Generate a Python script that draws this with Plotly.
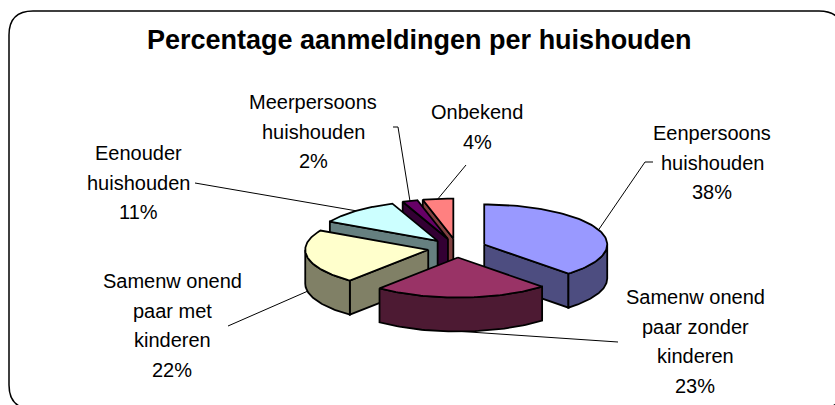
import numpy as np
import plotly.graph_objects as go

# ---------------- data ----------------
categories = ["Eenpersoons huishouden", "Samenwonend paar zonder kinderen",
              "Samenwonend paar met kinderen", "Eenouder huishouden",
              "Meerpersoons huishouden", "Onbekend"]
values = [38, 23, 22, 11, 2, 4]
label_lines = [["Eenpersoons", "huishouden"],
               ["Samenw onend", "paar zonder", "kinderen"],
               ["Samenw onend", "paar met", "kinderen"],
               ["Eenouder", "huishouden"],
               ["Meerpersoons", "huishouden"],
               ["Onbekend"]]
top_colors = ["#9999FF", "#993366", "#FFFFCC", "#CCFFFF", "#660066", "#FF8080"]
side_colors = ["#4D4D80", "#4D1A33", "#808066", "#668080", "#330033", "#804040"]
title_text = "Percentage aanmeldingen per huishouden"

# ---------------- layout constants (pixels) ----------------
W, H = 835, 405
CX, CY = 457, 248          # pie centre
RX, RY = 123, 40           # ellipse radii of the top face
DEPTH = 34                 # thickness
PULL = 0.238               # explosion fraction
LINE_H = 29.7
LABEL_POS = [(712, 133), (695, 297), (172, 281), (138, 153), (313, 102), (477, 112)]
LEADER_END = [[(645, 162), (653, 162)], [(618, 342)], [(228, 326)], [(195, 183)],
              [(398, 127), (393, 127)], [(466, 165)]]
OUTLINE = dict(color="black", width=1.8)

total = float(sum(values))
cum = np.concatenate([[0], np.cumsum(values)]) / total
theta_b = 90 - cum[:-1] * 360   # start (larger angle)
theta_a = 90 - cum[1:] * 360    # end (smaller angle)
mids = (theta_a + theta_b) / 2


def pt(sx, sy, deg, dz=0.0):
    r = np.radians(deg)
    return sx + RX * np.cos(r), sy - RY * np.sin(r) + dz


fig = go.Figure()


def poly(xs, ys, color):
    fig.add_trace(go.Scatter(x=list(xs), y=list(ys), mode="lines", fill="toself",
                             fillcolor=color, line=OUTLINE, hoverinfo="skip",
                             showlegend=False))


order = np.argsort(-np.sin(np.radians(mids)))   # back to front
for i in order:
    a, b, m = theta_a[i], theta_b[i], mids[i]
    mr = np.radians(m)
    sx = CX + PULL * RX * np.cos(mr)
    sy = CY - PULL * RY * np.sin(mr)
    # radial walls
    for ang, vis in ((a, np.cos(np.radians(a)) > 1e-6), (b, np.cos(np.radians(b)) < -1e-6)):
        if vis:
            ox, oy = pt(sx, sy, ang)
            poly([sx, ox, ox, sx, sx], [sy, oy, oy + DEPTH, sy + DEPTH, sy], side_colors[i])
    # outer wall (front half only)
    lo, hi = max(a, -180), min(b, 0)
    if hi > lo:
        t = np.linspace(lo, hi, 60)
        xt, yt = pt(sx, sy, t)
        xs = np.concatenate([xt, xt[::-1], xt[:1]])
        ys = np.concatenate([yt, yt[::-1] + DEPTH, yt[:1]])
        poly(xs, ys, side_colors[i])
    # top face
    t = np.linspace(b, a, 80)
    xt, yt = pt(sx, sy, t)
    poly(np.concatenate([[sx], xt, [sx]]), np.concatenate([[sy], yt, [sy]]), top_colors[i])

# leader lines
for i in range(len(values)):
    m = mids[i]
    mr = np.radians(m)
    sx = CX + PULL * RX * np.cos(mr)
    sy = CY - PULL * RY * np.sin(mr)
    px, py = pt(sx, sy, m, DEPTH if np.sin(mr) < 0 else 0)
    xs = [px] + [p[0] for p in LEADER_END[i]]
    ys = [py] + [p[1] for p in LEADER_END[i]]
    fig.add_trace(go.Scatter(x=xs, y=ys, mode="lines", line=dict(color="black", width=1),
                             hoverinfo="skip", showlegend=False))

# labels
annotations = []
font = dict(family="Liberation Sans, Arial, sans-serif", size=20, color="black")
for i, lines in enumerate(label_lines):
    pct = f"{values[i] / total * 100:.0f}%"
    lx, ly = LABEL_POS[i]
    for k, s in enumerate(lines + [pct]):
        annotations.append(dict(x=lx, y=ly + k * LINE_H, xref="x", yref="y", text=s,
                                showarrow=False, font=font, xanchor="center",
                                yanchor="middle"))
annotations.append(dict(x=419, y=40, xref="x", yref="y", text="<b>" + title_text + "</b>",
                        showarrow=False, xanchor="center", yanchor="middle",
                        font=dict(family="Liberation Sans, Arial, sans-serif", size=27,
                                  color="black")))

# rounded border
L, T, R, B, r = 9, 11, 843, 409, 24
path = (f"M {L + r},{T} L {R - r},{T} Q {R},{T} {R},{T + r} L {R},{B - r} "
        f"Q {R},{B} {R - r},{B} L {L + r},{B} Q {L},{B} {L},{B - r} "
        f"L {L},{T + r} Q {L},{T} {L + r},{T} Z")

fig.update_layout(
    width=W, height=H,
    margin=dict(l=0, r=0, t=0, b=0, pad=0),
    paper_bgcolor="white", plot_bgcolor="white",
    xaxis=dict(range=[0, W], visible=False, fixedrange=True),
    yaxis=dict(range=[H, 0], visible=False, fixedrange=True),
    annotations=annotations,
    shapes=[dict(type="path", path=path, xref="x", yref="y",
                 line=dict(color="black", width=1.5), layer="below")],
    showlegend=False,
)

fig.write_html("out.html", config={"displayModeBar": False},
               post_script="document.body.style.margin='0';document.body.style.overflow='hidden';")
